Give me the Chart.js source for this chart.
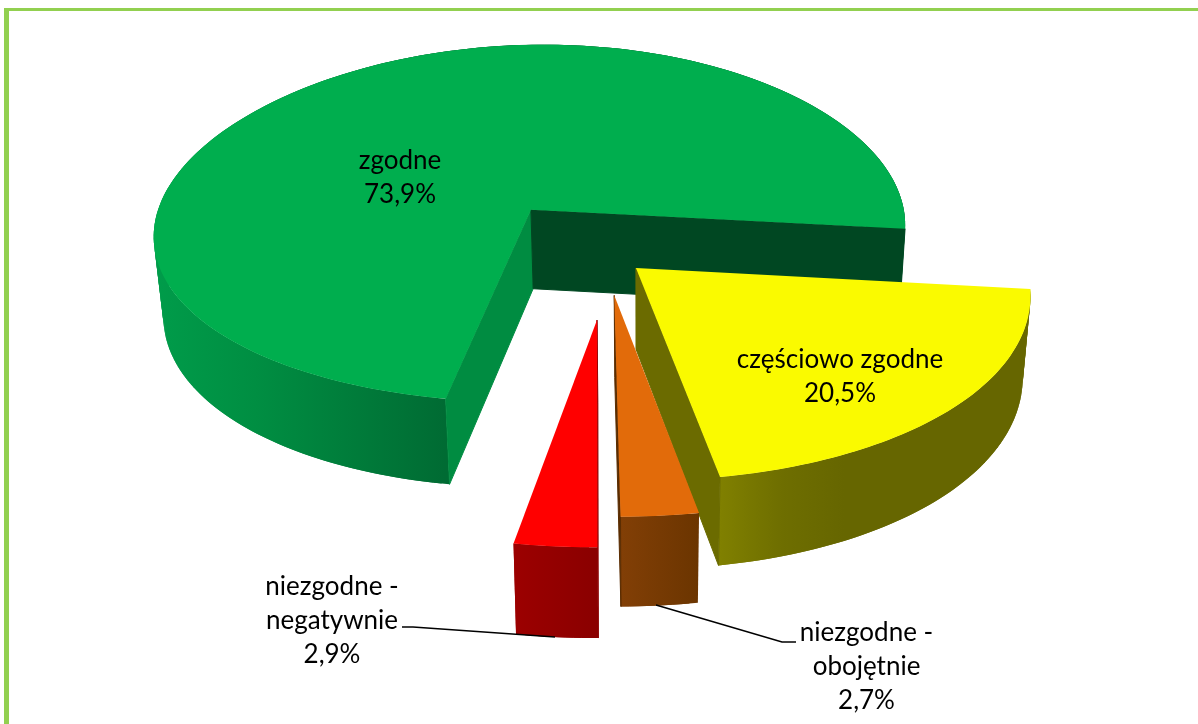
<!DOCTYPE html>
<html lang="pl">
<head>
<meta charset="utf-8">
<title>Wykres</title>
<style>html,body{margin:0;padding:0;background:#fff}canvas{display:block}</style>
<script src="https://cdn.jsdelivr.net/npm/chart.js@4"></script>
</head>
<body>
<canvas id="c" width="1198" height="724"></canvas>
<script>
const categories = ["zgodne", "częściowo zgodne", "niezgodne - obojętnie", "niezgodne - negatywnie"];
const values = [73.9, 20.5, 2.7, 2.9];
const topColors = ["#00AE4E", "#FAFA00", "#E26B0A", "#FF0000"];
const sideStops = [
  [[0, "#009C4A"], [0.35, "#008E42"], [1, "#006B33"]],
  [[0, "#808000"], [0.2, "#6E6E00"], [0.4, "#666600"], [1, "#666600"]],
  [[0, "#823F06"], [1, "#6B3500"]],
  [[0, "#9C0000"], [1, "#8A0000"]]
];
const startWallColors = ["#008C41", "#666600", "#5A2C00", "#8A0000"];
const endWallColors = ["#004722", "#6B6B00", "#5A2C00", "#8A0000"];
const frameColor = "#92D050";

/* per-slice explosion and perspective stretch, in units of the pie radius */
const explodeX = [-0.188, 0.102, 0.042, -0.0055];
const explodeY = [-0.2, 0.119, 0.263, 0.391];
const stretchX = [1.030, 1.080, 1.155, 1.146];
const stretchY = [1, 1.055, 1.077, 1.086];
const leanX = [-0.036, 0.0185, 0.007, -0.008];
const labelAt = [[400, 161], [840, 360], [866.5, 633], [332, 587]];
const leaderLines = [null, null, [[656, 605], [782, 642], [796, 642]], [[555, 637], [413, 627], [402, 627]]];

const pie3d = {
  id: "pie3d",
  beforeDatasetsDraw(chart) {
    const ctx = chart.ctx;
    const arcs = chart.getDatasetMeta(0).data;
    ctx.save();
    ctx.fillStyle = frameColor;
    ctx.fillRect(4, 8, 1194, 3);
    ctx.fillRect(4, 8, 5, 716);

    arcs.forEach((arc, i) => {
      const R = arc.outerRadius, cx = arc.x, cy = arc.y;
      const top = (a, rad = 1) => {
        const X = Math.cos(a) * rad, Yr = Math.sin(a) * rad * stretchY[i];
        const Y = explodeY[i] + Yr;
        return [
          cx + R * (explodeX[i] + (stretchX[i] + 0.1243 * Yr) * X + leanX[i] * Yr),
          cy + R * (-0.3204 + 0.5083 * Y + 0.0373 * Y * Y)
        ];
      };
      const drop = p => [640 + 0.98 * (p[0] - 640), p[1] + 79 + 0.035 * (p[1] - 210)];
      const path = pts => {
        ctx.beginPath();
        pts.forEach((p, k) => k ? ctx.lineTo(p[0], p[1]) : ctx.moveTo(p[0], p[1]));
        ctx.closePath();
      };
      const area = pts => pts.reduce((t, p, k) => {
        const q = pts[(k + 1) % pts.length];
        return t + p[0] * q[1] - q[0] * p[1];
      }, 0);
      const s = arc.startAngle, e = arc.endAngle;
      const n = Math.max(4, Math.ceil((e - s) / 0.02));
      const rim = [];
      for (let k = 0; k <= n; k++) rim.push(top(s + (e - s) * k / n));

      /* outer wall, as a horizontal shade over its own extent */
      const xs = rim.filter(p => p[1] > 200).map(p => p[0]);
      const x0 = Math.min(...xs), x1 = Math.max(...xs);
      const g = ctx.createLinearGradient(x0, 0, i === 0 ? top(s)[0] : x1, 0);
      sideStops[i].forEach(st => g.addColorStop(st[0], st[1]));
      ctx.fillStyle = g;
      for (let k = 0; k < n; k++) {
        const b = rim[Math.min(n, k + 2)];
        path([rim[k], b, drop(b), drop(rim[k])]);
        ctx.fill();
      }

      /* radial cut faces: only those that turn toward the viewer */
      const apex = top(0, 0);
      const wall = (p, color, sign) => {
        const pts = [apex, p, drop(p), drop(apex)];
        if (area(pts) * sign <= 0) return;
        ctx.fillStyle = color;
        ctx.strokeStyle = color;
        ctx.lineWidth = 1;
        path(pts);
        ctx.fill();
        ctx.stroke();
      };
      wall(rim[0], startWallColors[i], -1);
      wall(rim[n], endWallColors[i], 1);

      ctx.fillStyle = arc.options.backgroundColor;
      path([apex, ...rim]);
      ctx.fill();
    });

    ctx.strokeStyle = "#000";
    ctx.lineWidth = 1.6;
    leaderLines.forEach(l => {
      if (!l) return;
      ctx.beginPath();
      l.forEach((p, k) => k ? ctx.lineTo(p[0], p[1]) : ctx.moveTo(p[0], p[1]));
      ctx.stroke();
    });

    ctx.fillStyle = "#000";
    ctx.font = '26px Lato, "Open Sans", sans-serif';
    ctx.textAlign = "center";
    ctx.textBaseline = "middle";
    categories.forEach((name, i) => {
      const parts = name.includes(" - ") ? [name.split(" - ")[0] + " -", name.split(" - ")[1]] : [name];
      const lines = [...parts, values[i].toFixed(1).replace(".", ",") + "%"];
      lines.forEach((t, k) => ctx.fillText(t, labelAt[i][0], labelAt[i][1] + k * 34));
    });
    ctx.restore();
    return false;
  }
};

new Chart(document.getElementById("c"), {
  type: "pie",
  data: {
    labels: categories,
    datasets: [{ data: values, backgroundColor: topColors, borderWidth: 0 }]
  },
  options: {
    responsive: false,
    animation: false,
    rotation: 190,
    layout: { padding: 0 },
    plugins: { legend: { display: false }, tooltip: { enabled: false }, title: { display: false } }
  },
  plugins: [pie3d]
});
</script>
</body>
</html>
